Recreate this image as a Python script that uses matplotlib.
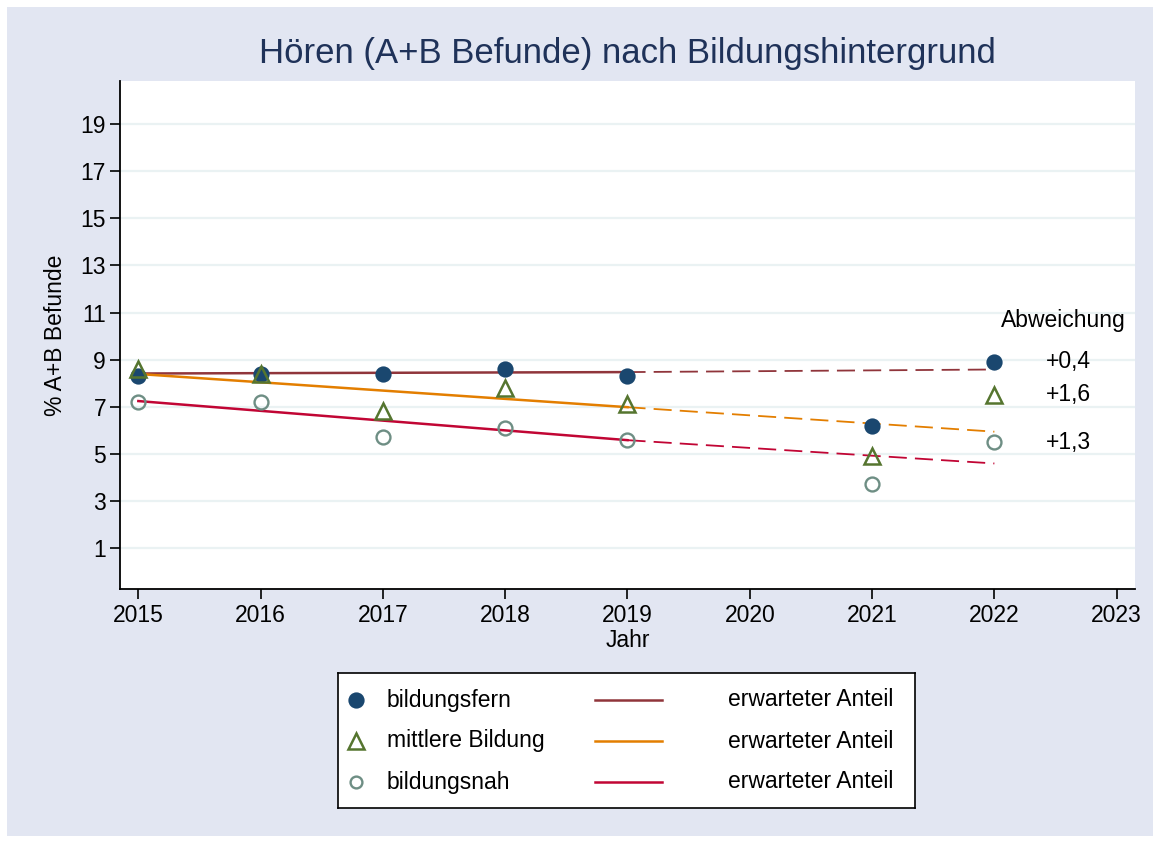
import matplotlib
matplotlib.use('Agg')
import matplotlib.pyplot as plt
from matplotlib.patches import Rectangle

plt.rcParams['font.family'] = ['Liberation Sans', 'DejaVu Sans']

years = [2015, 2016, 2017, 2018, 2019, 2021, 2022]
bildungsfern = [8.3, 8.4, 8.4, 8.6, 8.3, 6.2, 8.9]
mittlere_bildung = [8.6, 8.4, 6.8, 7.8, 7.1, 4.9, 7.5]
bildungsnah = [7.2, 7.2, 5.7, 6.1, 5.6, 3.7, 5.5]

# erwarteter Anteil: Werte bei 2015, 2019 (Ende Fit) und 2022 (Projektion)
trend_years = [2015, 2019, 2022]
fern_trend = [8.41, 8.47, 8.58]
mittel_trend = [8.39, 6.98, 5.94]
nah_trend = [7.24, 5.58, 4.59]

abweichung = ['+0,4', '+1,6', '+1,3']
series_labels = ['bildungsfern', 'mittlere Bildung', 'bildungsnah']

navy = '#1a476f'
green = '#55752f'
teal = '#6e8e84'
maroon = '#90353b'
orange = '#e37e00'
cranberry = '#c10534'
bg = '#e2e6f2'
grid_c = '#eaf2f3'

W, H = 1160, 843
fig = plt.figure(figsize=(W / 100, H / 100), dpi=100, facecolor='white')
fig.patches.append(Rectangle((7 / W, 7 / H), (1153 - 7) / W, (836 - 7) / H,
                             transform=fig.transFigure, facecolor=bg,
                             edgecolor='none', zorder=-10))

ax = fig.add_axes([120 / W, (H - 589) / H, (1135 - 120) / W, (589 - 81) / H])
ax.set_facecolor('white')

styles = [
    dict(marker='o', ms=10.5, mfc=navy, mec=navy, mew=1.2),
    dict(marker='^', ms=11, mfc='none', mec=green, mew=1.8),
    dict(marker='o', ms=10, mfc='none', mec=teal, mew=1.7),
]
legend_ms = [10.5, 11, 8.5]
trends = [fern_trend, mittel_trend, nah_trend]
trend_colors = [maroon, orange, cranberry]
values = [bildungsfern, mittlere_bildung, bildungsnah]

for tr, col in zip(trends, trend_colors):
    ax.plot(trend_years[:2], tr[:2], color=col, lw=1.8, zorder=2)
    ax.plot(trend_years[1:], tr[1:], color=col, lw=1.3,
            linestyle=(0, (10, 4.5)), zorder=2)

for vals, st in zip(values, styles):
    ax.plot(years, vals, linestyle='none', zorder=3, **st)

ax.set_xlim(2014.85, 2023.15)
ax.set_ylim(-0.74, 20.83)
ax.set_xticks(range(2015, 2024))
ax.set_yticks(range(1, 20, 2))
ax.yaxis.grid(True, color=grid_c, lw=1.6)
ax.set_axisbelow(True)
for s in ['top', 'right']:
    ax.spines[s].set_visible(False)
for s in ['left', 'bottom']:
    ax.spines[s].set_linewidth(1.3)
ax.tick_params(axis='both', length=7, width=1.2, labelsize=16.5, colors='black')
ax.tick_params(axis='x', pad=4)
ax.tick_params(axis='y', pad=3)
ax.set_xlabel('Jahr', fontsize=16.5, labelpad=1)
ax.set_ylabel('% A+B Befunde', fontsize=16.5, labelpad=10)

ax.text(2022.56, 10.68, 'Abweichung', fontsize=16.5, ha='center', va='center')
for lab, vals in zip(abweichung, values):
    ax.text(2022.42, vals[-1], lab, fontsize=16.5, ha='left', va='center')

fig.text(627 / W, (H - 53) / H, 'Hören (A+B Befunde) nach Bildungshintergrund',
         fontsize=25, color='#1f3259', ha='center', va='center')

# Legende
lx0, ly0, lw, lh = 338, 673, 577, 135
lax = fig.add_axes([lx0 / W, (H - ly0 - lh) / H, lw / W, lh / H])
lax.set_xlim(0, lw)
lax.set_ylim(lh, 0)
lax.set_xticks([])
lax.set_yticks([])
lax.set_facecolor('white')
for s in lax.spines.values():
    s.set_linewidth(1.2)
    s.set_color('black')
rows = [27, 68, 109]
for r, st, ms, lab, col in zip(rows, styles, legend_ms, series_labels, trend_colors):
    lst = dict(st, ms=ms)
    lax.plot([18], [r], **lst)
    lax.text(49, r, lab, fontsize=16.5, va='center', ha='left')
    lax.plot([257, 324], [r, r], color=col, lw=1.8)
    lax.text(390, r, 'erwarteter Anteil', fontsize=16.5, va='center', ha='left')

fig.savefig('out.png', dpi=100, facecolor='white')
